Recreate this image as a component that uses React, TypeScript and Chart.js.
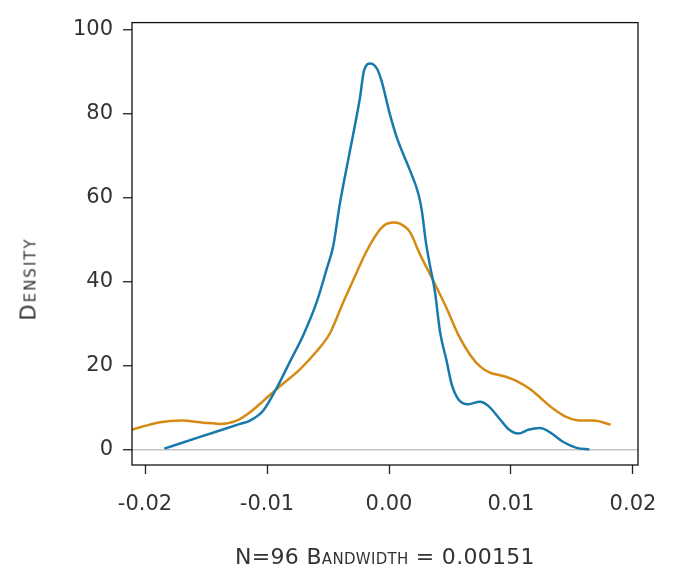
import React, { useEffect, useRef } from 'react';
import { Chart, registerables } from 'chart.js';

Chart.register(...registerables);

// Density estimates (x = value, y = density)
const blueX = [-0.01842, -0.01549, -0.01221, -0.01139, -0.0103, -0.0092, -0.00811, -0.00702, -0.00593, -0.00511, -0.00457, -0.00402, -0.0032, -0.00238, -0.00205, -0.0015, -0.00096, -0.0006, 0.00008, 0.00068, 0.00172, 0.0024, 0.00268, 0.00303, 0.00336, 0.00377, 0.00418, 0.00473, 0.00514, 0.00568, 0.0065, 0.00746, 0.00814, 0.00896, 0.00978, 0.0106, 0.01142, 0.01238, 0.0132, 0.01429, 0.01539, 0.01642];
const blueY = [0.2, 3.0, 6.1, 6.9, 9.3, 14.7, 21.0, 27.3, 35.1, 43.0, 48.5, 58.7, 71.2, 83.8, 90.3, 92.0, 90.6, 87.7, 79.8, 74.0, 66.5, 61.0, 57.1, 49.3, 43.8, 37.5, 28.1, 21.0, 15.5, 12.0, 10.8, 11.4, 10.4, 7.7, 4.9, 3.8, 4.7, 5.1, 4.1, 1.8, 0.4, 0.0];

const orangeX = [-0.0211, -0.01877, -0.01699, -0.01522, -0.01385, -0.01248, -0.01139, -0.0103, -0.00893, -0.0073, -0.00593, -0.00484, -0.00375, -0.00265, -0.00183, -0.00074, -0.00025, 0.00035, 0.0009, 0.00172, 0.00254, 0.00363, 0.00473, 0.00568, 0.00664, 0.00746, 0.00828, 0.00937, 0.01047, 0.01156, 0.01238, 0.01347, 0.01457, 0.01566, 0.01675, 0.01817];
const orangeY = [4.7, 6.5, 6.9, 6.4, 6.1, 6.9, 8.9, 11.6, 15.1, 19.1, 23.4, 27.7, 35.1, 42.2, 47.3, 52.4, 53.7, 54.1, 53.8, 51.8, 46.5, 40.2, 33.6, 27.3, 22.6, 19.8, 18.3, 17.5, 16.3, 14.4, 12.4, 9.7, 7.7, 6.9, 6.9, 5.9];

const xTicks = [-0.02, -0.01, 0, 0.01, 0.02];
const yTicks = [0, 20, 40, 60, 80, 100];

const xTitle = 'N=96 Bandwidth = 0.00151';
const yTitle = 'Density';

const BLUE = '#1879ad';
const ORANGE = '#d68a16';
const TEXT = '#333333';

const framePlugin = {
  id: 'frame',
  afterDatasetsDraw(chart: any) {
    const { ctx, chartArea } = chart;
    const { left, top, right, bottom } = chartArea;
    ctx.save();
    ctx.strokeStyle = '#111111';
    ctx.lineWidth = 1.3;
    ctx.strokeRect(left, top, right - left, bottom - top);
    ctx.restore();
  },
};

export default function App() {
  const ref = useRef<HTMLCanvasElement | null>(null);

  useEffect(() => {
    if (!ref.current) return;
    const chart = new Chart(ref.current, {
      type: 'line',
      data: {
        datasets: [
          {
            data: blueX.map((x, i) => ({ x, y: blueY[i] })),
            borderColor: BLUE,
            borderWidth: 2.5,
            pointRadius: 0,
            cubicInterpolationMode: 'monotone',
            fill: false,
          },
          {
            data: orangeX.map((x, i) => ({ x, y: orangeY[i] })),
            borderColor: ORANGE,
            borderWidth: 2.5,
            pointRadius: 0,
            cubicInterpolationMode: 'monotone',
            fill: false,
          },
        ],
      },
      options: {
        animation: false,
        responsive: false,
        devicePixelRatio: 1,
        layout: { padding: { top: 17, right: 43, left: 0, bottom: 0 } },
        plugins: {
          legend: { display: false },
          tooltip: { enabled: false },
        },
        scales: {
          x: {
            type: 'linear',
            min: -0.021066,
            max: 0.02041,
            afterBuildTicks: (s: any) => {
              s.ticks = xTicks.map((v) => ({ value: v }));
            },
            afterFit: (s: any) => {
              s.height = 101;
            },
            border: { display: false },
            grid: {
              drawOnChartArea: false,
              tickLength: 9,
              tickColor: '#222222',
              tickWidth: 1.3,
            },
            ticks: {
              padding: 18,
              color: TEXT,
              font: { family: 'DejaVu Sans', size: 21 },
              maxRotation: 0,
              callback: (v: any) => (Math.abs(Number(v)) < 1e-9 ? '0.00' : Number(v).toFixed(2)),
            },
          },
          y: {
            type: 'linear',
            min: -3.69,
            max: 101.72,
            afterBuildTicks: (s: any) => {
              s.ticks = yTicks.map((v) => ({ value: v }));
            },
            afterFit: (s: any) => {
              s.width = 132;
            },
            border: { display: false },
            grid: {
              color: (c: any) => (c.tick && c.tick.value === 0 ? '#c4c4c4' : 'rgba(0,0,0,0)'),
              lineWidth: 1.5,
              tickLength: 9,
              tickColor: '#222222',
              tickWidth: 1.3,
            },
            ticks: {
              padding: 10,
              color: TEXT,
              font: { family: 'DejaVu Sans', size: 21 },
              callback: (v: any) => String(v),
            },
          },
        },
      },
      plugins: [framePlugin],
    } as any);
    return () => chart.destroy();
  }, []);

  return (
    <div
      style={{
        position: 'fixed',
        left: 0,
        top: 0,
        width: 681,
        height: 566,
        background: '#ffffff',
        overflow: 'hidden',
      }}
    >
      <canvas ref={ref} width={681} height={566} style={{ display: 'block' }} />
      <div
        style={{
          position: 'absolute',
          left: 385,
          top: 545.5,
          transform: 'translateX(-50%)',
          whiteSpace: 'nowrap',
          fontFamily: 'DejaVu Sans',
          fontSize: 22,
          lineHeight: '22px',
          fontVariant: 'small-caps',
          letterSpacing: 0.3,
          color: TEXT,
        }}
      >
        {xTitle}
      </div>
      <div
        style={{
          position: 'absolute',
          left: 29,
          top: 278.5,
          transform: 'translate(-50%, -50%) rotate(-90deg)',
          whiteSpace: 'nowrap',
          fontFamily: 'DejaVu Sans',
          fontSize: 21,
          lineHeight: '21px',
          fontVariant: 'small-caps',
          letterSpacing: 2,
          color: TEXT,
        }}
      >
        {yTitle}
      </div>
    </div>
  );
}
